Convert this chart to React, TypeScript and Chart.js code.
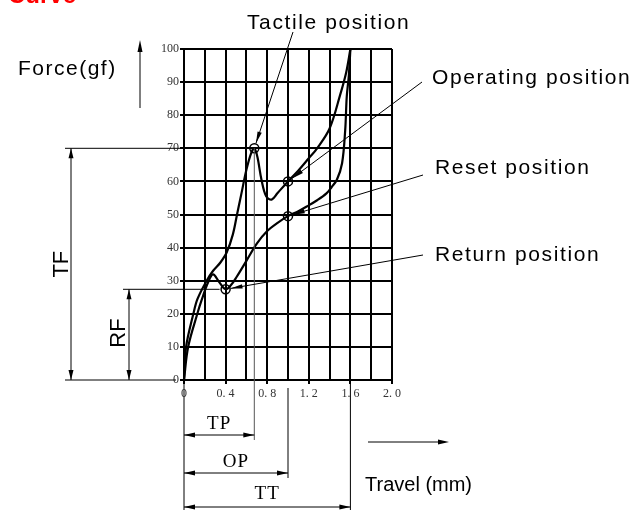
import React, { useEffect, useRef } from "react";
import { Chart, registerables } from "chart.js";
Chart.register(...registerables);

// Press (forward) curve
const pressTravel = [0, 0.02, 0.09, 0.13, 0.218, 0.28, 0.35, 0.41, 0.47, 0.51, 0.55, 0.6, 0.645, 0.676, 0.705, 0.745, 0.79, 0.843, 0.9, 1.0, 1.1, 1.2, 1.28, 1.4, 1.5, 1.56, 1.6];
const pressForce = [0, 10, 20, 24.5, 30, 33, 35.5, 38.5, 44, 50, 56, 63.5, 68.5, 70, 67.5, 60.5, 55.5, 54.5, 56.5, 60, 63.3, 67, 70, 76, 86, 93, 100];
// Return curve
const returnTravel = [1.6, 1.585, 1.565, 1.55, 1.52, 1.47, 1.42, 1.37, 1.28, 1.18, 1.1, 1.0, 0.9, 0.8, 0.7, 0.6, 0.507, 0.45, 0.4, 0.34, 0.28, 0.234, 0.17, 0.128, 0.04, 0];
const returnForce = [100, 92, 85.6, 75.5, 65.5, 60.5, 58.3, 56.4, 54.3, 52.4, 51, 49.5, 47.5, 45, 41.2, 36, 31.2, 28.6, 27.4, 29.5, 31.9, 29.7, 24.2, 20, 10, 0];
// Marked positions
const markerNames = ["Tactile position", "Operating position", "Reset position", "Return position"];
const markerTravel = [0.676, 1.0, 1.0, 0.4];
const markerForce = [70, 60, 49.5, 27.4];
// Dimension labels
const tfForce = 70;
const rfForce = 27.4;
const tpTravel = 0.676;
const opTravel = 1.0;
const ttTravel = 1.6;

function line(ctx: CanvasRenderingContext2D, x1: number, y1: number, x2: number, y2: number, w = 1, c = "#000") {
  ctx.save();
  ctx.strokeStyle = c;
  ctx.lineWidth = w;
  ctx.beginPath();
  ctx.moveTo(x1, y1);
  ctx.lineTo(x2, y2);
  ctx.stroke();
  ctx.restore();
}

function head(ctx: CanvasRenderingContext2D, tx: number, ty: number, fx: number, fy: number, len = 10, hw = 2.5) {
  const dx = tx - fx, dy = ty - fy;
  const d = Math.hypot(dx, dy) || 1;
  const ux = dx / d, uy = dy / d;
  const bx = tx - ux * len, by = ty - uy * len;
  ctx.save();
  ctx.fillStyle = "#000";
  ctx.beginPath();
  ctx.moveTo(tx, ty);
  ctx.lineTo(bx - uy * hw, by + ux * hw);
  ctx.lineTo(bx + uy * hw, by - ux * hw);
  ctx.closePath();
  ctx.fill();
  ctx.restore();
}

function text(ctx: CanvasRenderingContext2D, s: string, x: number, y: number, font: string, opts: any = {}) {
  ctx.save();
  ctx.font = font;
  ctx.fillStyle = opts.color || "#000";
  ctx.textAlign = opts.align || "left";
  ctx.textBaseline = opts.baseline || "middle";
  (ctx as any).letterSpacing = opts.spacing || "0px";
  if (opts.rotate) {
    ctx.translate(x, y);
    ctx.rotate(opts.rotate);
    ctx.fillText(s, 0, 0);
  } else {
    ctx.fillText(s, x, y);
  }
  ctx.restore();
}

const annotations = {
  id: "annotations",
  afterDraw(chart: any) {
    const ctx: CanvasRenderingContext2D = chart.ctx;
    const xs = chart.scales.x;
    const ys = chart.scales.y;
    const X = (v: number) => xs.getPixelForValue(v);
    const Y = (v: number) => ys.getPixelForValue(v);
    const left = X(0);

    // Title (cut off at top)
    text(ctx, "Curve", 8, 3, "bold 24px 'Liberation Sans'", { color: "#ff0000", baseline: "alphabetic" });

    // Force label and arrow
    text(ctx, "Force(gf)", 18, 69, "21px 'Liberation Sans'", { spacing: "1.5px" });
    line(ctx, 140, 108, 140, 48, 1);
    head(ctx, 140, 40, 140, 60, 12, 2.5);

    // TF / RF dimension
    line(ctx, 65, Y(tfForce), left, Y(tfForce), 1);
    line(ctx, 65, Y(0), left - 8, Y(0), 1);
    line(ctx, 123, Y(rfForce), X(markerTravel[3]) - 6, Y(rfForce), 1);
    line(ctx, 71, Y(tfForce), 71, Y(0), 1);
    head(ctx, 71, Y(tfForce), 71, Y(0), 10, 2.5);
    head(ctx, 71, Y(0), 71, Y(tfForce), 10, 2.5);
    line(ctx, 129, Y(rfForce), 129, Y(0), 1);
    head(ctx, 129, Y(rfForce), 129, Y(0), 10, 2.5);
    head(ctx, 129, Y(0), 129, Y(rfForce), 10, 2.5);
    text(ctx, "TF", 62, (Y(tfForce) + Y(0)) / 2, "22px 'Liberation Sans'", { align: "center", rotate: -Math.PI / 2 });
    text(ctx, "RF", 119, 333, "22px 'Liberation Sans'", { align: "center", rotate: -Math.PI / 2 });

    // TP / OP / TT dimension
    line(ctx, X(tpTravel), Y(tfForce), X(tpTravel), 440, 1, "#555");
    line(ctx, X(opTravel), 388, X(opTravel), 478, 1);
    line(ctx, X(ttTravel), Y(0), X(ttTravel), 510, 1);
    line(ctx, left, Y(0), left, 510, 1);
    const dims: [number, number, string, number][] = [
      [tpTravel, 435, "TP", 424],
      [opTravel, 473, "OP", 462],
      [ttTravel, 507, "TT", 494],
    ];
    for (const [t, yy, lab, ly] of dims) {
      line(ctx, left, yy, X(t), yy, 1);
      head(ctx, left, yy, X(t), yy, 11, 2.5);
      head(ctx, X(t), yy, left, yy, 11, 2.5);
      text(ctx, lab, (left + X(t)) / 2, ly, "19px 'Liberation Serif'", { align: "center", spacing: "1px" });
    }

    // Travel label and arrow
    line(ctx, 368, 442, 440, 442, 1);
    head(ctx, 449, 442, 368, 442, 11, 2.5);
    text(ctx, "Travel (mm)", 365, 485, "20px 'Liberation Sans'");

    // Callouts
    const callouts: [number, number, number, number][] = [
      [247, 23, 293, 32],
      [432, 78, 422, 82],
      [435, 168, 423, 175],
      [435, 255, 423, 255],
    ];
    callouts.forEach(([tx, ty, sx, sy], i) => {
      text(ctx, markerNames[i], tx, ty, "21px 'Liberation Sans'", { spacing: "1.6px" });
      const mx = X(markerTravel[i]);
      const my = Y(markerForce[i]);
      const dx = sx - mx, dy = sy - my;
      const d = Math.hypot(dx, dy);
      const tipx = mx + (dx / d) * 5;
      const tipy = my + (dy / d) * 5;
      line(ctx, sx, sy, tipx, tipy, 1);
      head(ctx, tipx, tipy, sx, sy, 12, 2.2);
    });
  },
};

export default function App() {
  const ref = useRef<HTMLCanvasElement | null>(null);
  useEffect(() => {
    if (!ref.current) return;
    const chart = new Chart(ref.current, {
      type: "line",
      data: {
        datasets: [
          {
            label: "Markers",
            type: "scatter",
            data: markerTravel.map((x, i) => ({ x, y: markerForce[i] })),
            pointRadius: 4.5,
            pointBorderWidth: 1.5,
            pointBorderColor: "#000",
            pointBackgroundColor: "rgba(255,255,255,0)",
            order: 0,
          } as any,
          {
            label: "Press",
            data: pressTravel.map((x, i) => ({ x, y: pressForce[i] })),
            borderColor: "#000",
            borderWidth: 2.2,
            pointRadius: 0,
            tension: 0.35,
            fill: false,
            clip: false,
            order: 1,
          } as any,
          {
            label: "Return",
            data: returnTravel.map((x, i) => ({ x, y: returnForce[i] })),
            borderColor: "#000",
            borderWidth: 2.2,
            pointRadius: 0,
            tension: 0.35,
            fill: false,
            clip: false,
            order: 1,
          } as any,
        ],
      },
      options: {
        responsive: false,
        animation: false,
        layout: { padding: { top: 49, left: 144, right: 240, bottom: 100 } },
        plugins: { legend: { display: false }, tooltip: { enabled: false } },
        scales: {
          x: {
            type: "linear",
            min: 0,
            max: 2,
            afterFit: (s: any) => { s.height = 30; },
            ticks: {
              stepSize: 0.2,
              autoSkip: false,
              maxRotation: 0,
              padding: 3,
              color: "#333",
              font: { family: "'Liberation Serif'", size: 12 },
              callback: (v: any) => {
                const k = Math.round(Number(v) * 10);
                if (k % 4 !== 0) return "";
                if (k === 0) return "0";
                return `${Math.floor(k / 10)}. ${k % 10}`;
              },
            },
            grid: {
              color: "#000",
              lineWidth: 2,
              tickLength: 4,
              tickColor: (c: any) => (Math.round(c.tick.value * 10) % 4 === 0 ? "#000" : "rgba(0,0,0,0)"),
            },
            border: { display: true, color: "#000", width: 2 },
          },
          y: {
            min: 0,
            max: 100,
            afterFit: (s: any) => { s.width = 40; },
            ticks: {
              stepSize: 10,
              padding: 1,
              color: "#333",
              font: { family: "'Liberation Serif'", size: 12 },
            },
            grid: { color: "#000", lineWidth: 2, tickLength: 4 },
            border: { display: true, color: "#000", width: 2 },
          },
        },
      },
      plugins: [annotations],
    } as any);
    return () => chart.destroy();
  }, []);
  return (
    <div style={{ position: "fixed", left: 0, top: 0, width: 632, height: 510, background: "#fff" }}>
      <canvas ref={ref} width={632} height={510} style={{ display: "block" }} />
    </div>
  );
}
